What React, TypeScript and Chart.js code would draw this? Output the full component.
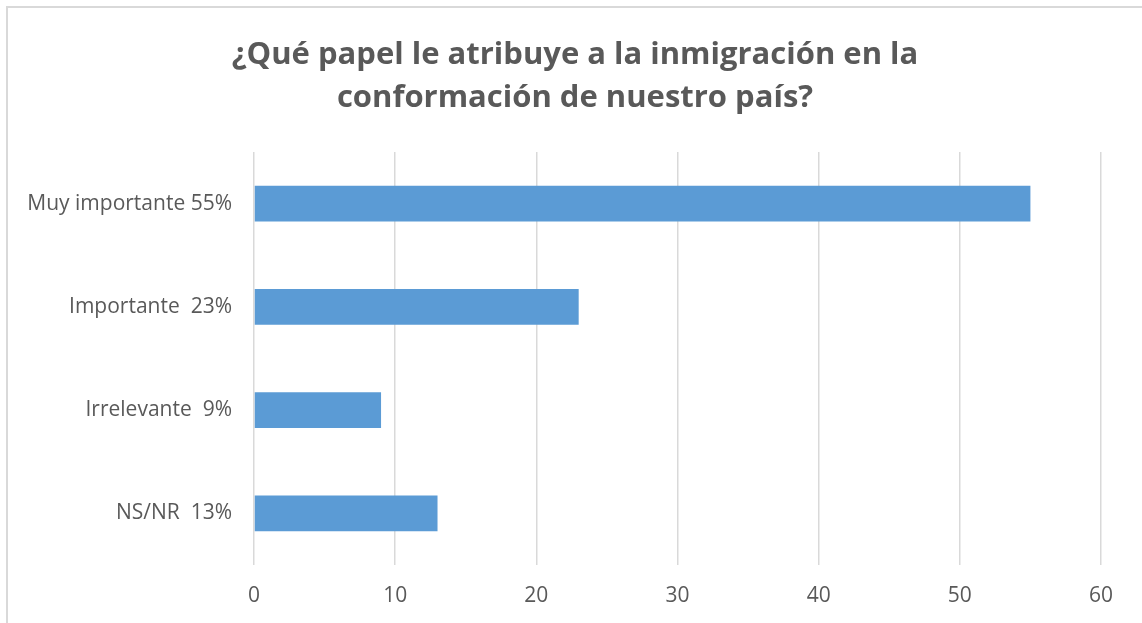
import React, { useEffect, useRef } from "react";
import { Chart, registerables } from "chart.js";

Chart.register(...registerables);

const titleLines = ["¿Qué papel le atribuye a la inmigración en la", "conformación de nuestro país?"];
const categories = ["Muy importante 55%", "Importante  23%", "Irrelevante  9%", "NS/NR  13%"];
const values = [55, 23, 9, 13];
const xMin = 0;
const xMax = 60;
const xStep = 10;

const titleShift = {
  id: "titleShift",
  afterLayout(chart: any) {
    const t = chart.titleBlock;
    if (t) {
      t.left = 49;
      t.right = chart.chartArea.right;
      t.width = t.right - t.left;
    }
  },
};

export default function App() {
  const ref = useRef<HTMLCanvasElement | null>(null);
  useEffect(() => {
    if (!ref.current) return;
    const chart = new Chart(ref.current, {
      type: "bar",
      data: {
        labels: categories,
        datasets: [
          {
            data: values,
            backgroundColor: "#5B9BD5",
            borderWidth: 0,
            barPercentage: 0.69,
            categoryPercentage: 0.5,
          },
        ],
      },
      plugins: [titleShift],
      options: {
        indexAxis: "y",
        animation: false,
        responsive: false,
        maintainAspectRatio: false,
        layout: { padding: { left: 0, right: 41, top: 0, bottom: 0 } },
        plugins: {
          legend: { display: false },
          tooltip: { enabled: false },
          title: {
            display: true,
            text: titleLines,
            color: "#595959",
            font: { family: "Open Sans", size: 31, weight: "bold", lineHeight: 1.387 },
            padding: { top: 34, bottom: 32 },
          },
        },
        scales: {
          x: {
            min: xMin,
            max: xMax,
            ticks: { stepSize: xStep, color: "#595959", font: { family: "Open Sans", size: 21 }, padding: 18 },
            grid: { color: "#d9d9d9", lineWidth: 1.5, drawTicks: false },
            border: { display: false },
            afterFit: (s: any) => {
              s.height = 58;
            },
          },
          y: {
            ticks: { color: "#595959", font: { family: "Open Sans", size: 21 }, padding: 22 },
            grid: { display: false, drawTicks: false },
            border: { display: false },
            afterFit: (s: any) => {
              s.width = 254;
            },
          },
        },
      },
    });
    return () => chart.destroy();
  }, []);
  return (
    <div style={{ position: "fixed", left: 0, top: 0, width: 1142, height: 623, overflow: "hidden", background: "#fff" }}>
      <div
        style={{
          position: "absolute",
          left: 6,
          top: 6,
          width: 1160,
          height: 640,
          border: "2px solid #d9d9d9",
          boxSizing: "border-box",
        }}
      />
      <canvas ref={ref} width={1142} height={623} style={{ position: "absolute", left: 0, top: 0 }} />
    </div>
  );
}
